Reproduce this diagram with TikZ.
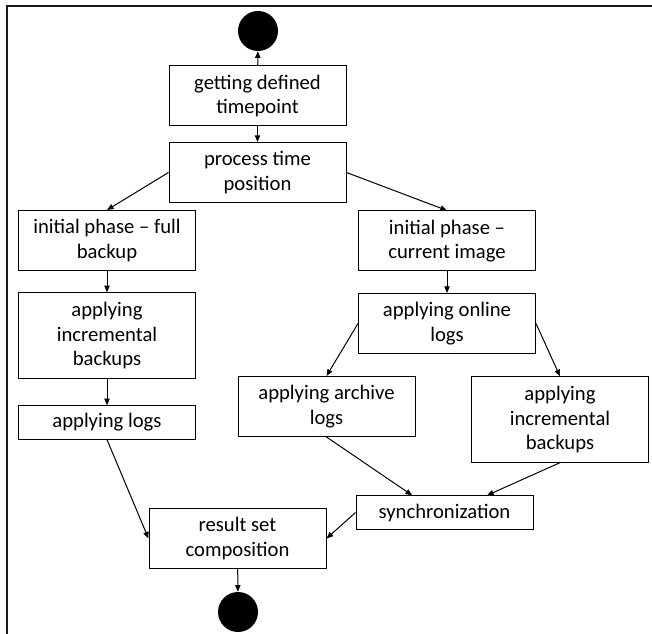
\documentclass[tikz,border=0pt]{standalone}
\usepackage{fontspec}
\setmainfont{Carlito}
\usetikzlibrary{arrows.meta}

\begin{document}
\begin{tikzpicture}[
    x=0.75pt, y=-0.75pt,
    activity/.style={rectangle, draw, line width=0.75pt, minimum width=132.75pt, minimum height=45pt, align=center, inner sep=2pt, font=\fontsize{15.5}{18.5}\selectfont},
    tall/.style={minimum height=64pt},
    flat/.style={minimum height=25pt},
    endpoint/.style={circle, fill=black, minimum size=30pt, inner sep=0pt},
    flow/.style={-{Triangle[length=5pt,width=4pt]}, line width=0.75pt},
]
\useasboundingbox (0,0) rectangle (652,634);
\draw[line width=1.5pt, black!90] (652,6) -- (7,6) -- (7,634);

\node[endpoint] (start) at (258,31) {};
\node[activity] (getdef) at (257.5,96) {getting defined\\timepoint};
\node[activity] (proc) at (257.5,172.5) {process time\\position};
\node[activity] (full) at (107,240.5) {initial phase -- full\\backup};
\node[activity] (cur) at (447,241) {initial phase --\\current image};
\node[activity, tall] (linc) at (107,335.5) {applying\\incremental\\backups};
\node[activity, flat] (logs) at (107,422.5) {applying logs};
\node[activity] (online) at (447,323.5) {applying online\\logs};
\node[activity] (archive) at (326.5,406.5) {applying archive\\logs};
\node[activity, tall] (rinc) at (560,419.5) {applying\\incremental\\backups};
\node[activity, flat] (sync) at (444.5,512.5) {synchronization};
\node[activity] (result) at (237.5,538.5) {result set\\composition};
\node[endpoint] (stop) at (238,612) {};

\draw[flow] (getdef) -- (start);
\draw[flow] (getdef) -- (proc);
\draw[flow] (proc.west) -- (full.north);
\draw[flow] (proc.east) -- (cur.north);
\draw[flow] (full) -- (linc);
\draw[flow] (linc) -- (logs);
\draw[flow] (cur) -- (online);
\draw[flow] (online.west) -- (archive.north);
\draw[flow] (online.east) -- (rinc.north);
\draw[flow] (archive.south) -- (sync.152);
\draw[flow] (rinc.south) -- (sync.22);
\draw[flow] (logs.south) -- (result.west);
\draw[flow] (sync.west) -- (result.east);
\draw[flow] (result) -- (stop);

\end{tikzpicture}
\end{document}
